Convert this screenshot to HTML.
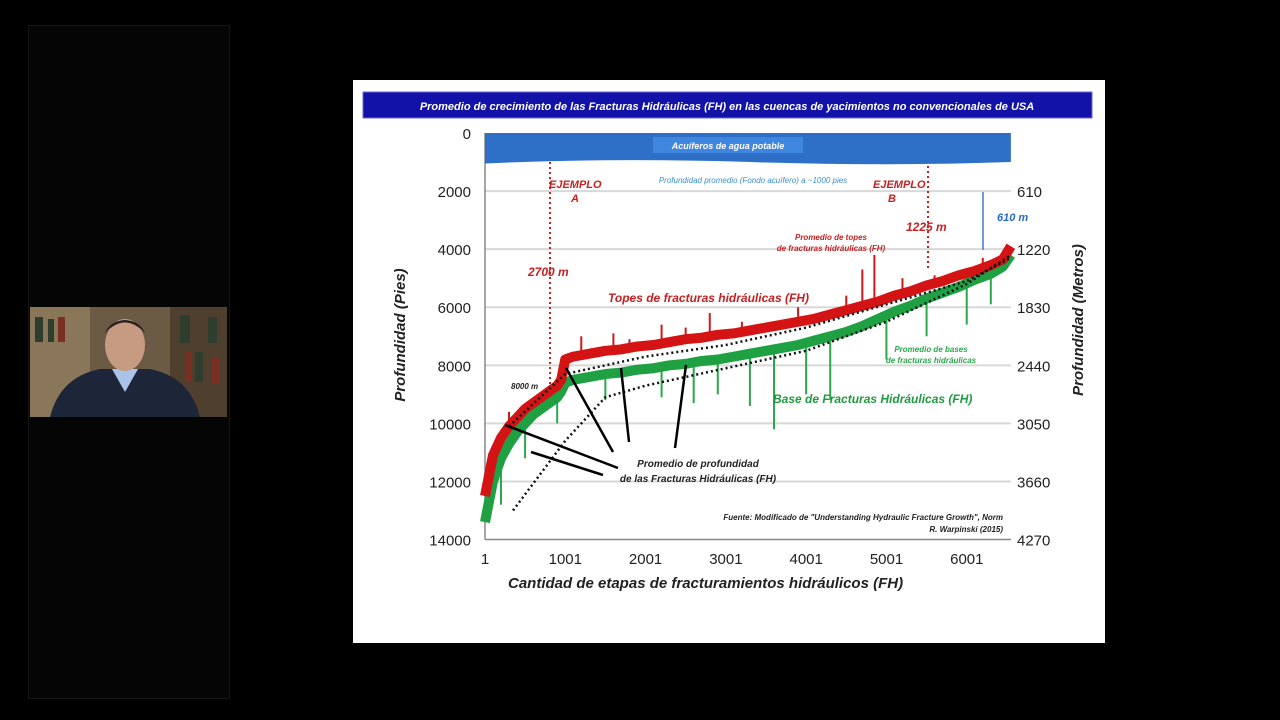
<!DOCTYPE html>
<html><head><meta charset="utf-8">
<style>
html,body{margin:0;padding:0;background:#000;width:1280px;height:720px;overflow:hidden;font-family:"Liberation Sans",sans-serif}
#left{position:absolute;left:28px;top:25px;width:200px;height:672px;background:#050505;border:1px solid #151515}
#cam{position:absolute;left:30px;top:307px;width:197px;height:110px;overflow:hidden;background:#5a4a38}
#slide{position:absolute;left:353px;top:80px;width:752px;height:563px;background:#fff}
</style></head><body>
<div id="left"></div>
<div id="cam">
<svg width="197" height="110">
<rect x="0" y="0" width="197" height="110" fill="#6b5a44"/>
<rect x="0" y="0" width="60" height="110" fill="#8a7658"/>
<rect x="140" y="0" width="57" height="110" fill="#4e3f2e"/>
<g fill="#2f3d2f"><rect x="5" y="10" width="8" height="25"/><rect x="18" y="12" width="6" height="23"/><rect x="150" y="8" width="10" height="28"/><rect x="165" y="45" width="8" height="30"/><rect x="178" y="10" width="9" height="26"/></g>
<g fill="#7a2f25"><rect x="28" y="10" width="7" height="25"/><rect x="155" y="45" width="7" height="30"/><rect x="182" y="50" width="8" height="26"/></g>
<path d="M20 110 Q30 70 70 62 L120 62 Q160 70 170 110Z" fill="#1c2638"/>
<path d="M82 62 L95 85 L108 62Z" fill="#a9c4e8"/>
<ellipse cx="95" cy="38" rx="20" ry="26" fill="#c79a82"/>
<path d="M75 26 Q95 5 115 26 Q110 14 95 13 Q80 14 75 26Z" fill="#2a2220"/>
</svg></div>
<div id="slide">
<svg id="chart" width="752" height="563"></svg>
</div>
<script>
// data (stage number, depth in feet)
const stages = [1,50,100,200,300,400,500,600,700,800,900,950,1000,1100,1300,1500,1700,1900,2100,2300,2500,2700,2900,3100,3300,3500,3700,3900,4100,4300,4500,4700,4900,5100,5300,5500,5700,5900,6100,6300,6450,6550];
const topDepth = [12500,11800,11100,10500,10100,9800,9500,9300,9100,8900,8700,8500,7800,7700,7600,7500,7450,7350,7300,7200,7100,7050,6950,6900,6800,6700,6600,6500,6400,6250,6100,5950,5800,5600,5450,5250,5100,4900,4750,4550,4350,3900];
const baseDepth = [13400,12700,12000,11200,10700,10300,10000,9700,9500,9300,9100,8900,8600,8500,8400,8300,8250,8150,8100,8000,7950,7850,7800,7700,7600,7500,7400,7300,7150,7000,6850,6650,6400,6150,5950,5700,5500,5300,5050,4850,4600,4200];
const topSpikes = [[300,9600],[1200,7000],[1600,6900],[1800,7100],[2200,6600],[2500,6700],[2800,6200],[3200,6500],[3900,6000],[4500,5600],[4700,4700],[4850,4200],[5200,5000],[5600,4900],[6200,4300]];
const baseSpikes = [[200,12800],[500,11200],[900,10000],[1500,9200],[2200,9100],[2600,9300],[2900,9000],[3300,9400],[3600,10200],[4000,9000],[4300,9200],[5000,7800],[5500,7000],[6000,6600],[6300,5900]];
const avgUpper = [[300,10100],[1000,8300],[2000,7700],[3000,7300],[4000,6700],[5000,5900],[6000,5100],[6550,4300]];
const avgLower = [[350,13000],[1000,10600],[1500,9100],[2000,8700],[3000,8100],[4000,7500],[5000,6500],[6000,5200],[6550,4200]];
const yTicks = [0,2000,4000,6000,8000,10000,12000,14000];
const xTicks = [1,1001,2001,3001,4001,5001,6001];
const mTicks = ["610","1220","1830","2440","3050","3660","4270"];

const NS="http://www.w3.org/2000/svg";
const svg=document.getElementById('chart');
const XMAX=6550;
const X=v=>132+(v-1)*0.0803;
const Y=v=>53+v*0.02904;
function el(t,a,txt){const e=document.createElementNS(NS,t);for(const k in a)e.setAttribute(k,a[k]);if(txt!==undefined)e.textContent=txt;svg.appendChild(e);return e;}
let e;
e=el('rect',{x:10,y:12,width:729,height:26,fill:'#1212a8',stroke:'#6a6ad0'});


e=el('text',{x:374,y:30,'text-anchor':'middle','font-size':11,'font-weight':'bold','font-style':'italic',fill:'#fff'},'Promedio de crecimiento de las Fracturas Hidráulicas (FH) en las cuencas de yacimientos no convencionales de USA');


yTicks.forEach((t,i)=>{
 if(i>0&&i<7){e=el('line',{x1:X(1),x2:X(XMAX),y1:Y(t),y2:Y(t),stroke:'#d8d8d8','stroke-width':2});
 
 }
 e=el('text',{x:118,y:Y(t)+6,'text-anchor':'end','font-size':15,fill:'#222'},String(t));
 
 
});
mTicks.forEach((t,i)=>{
 e=el('text',{x:664,y:Y((i+1)*2000)+6,'font-size':15,fill:'#222'},t);
 
 
});
xTicks.forEach(t=>{
 e=el('text',{x:X(t),y:484,'text-anchor':'middle','font-size':15,fill:'#222'},String(t));
 
 
});
e=el('line',{x1:X(1),x2:X(1),y1:Y(0),y2:Y(14000),stroke:'#888','stroke-width':1.5});


e=el('line',{x1:X(1),x2:X(XMAX),y1:Y(14000),y2:Y(14000),stroke:'#888','stroke-width':1.5});


e=el('path',{d:`M${X(1)} ${Y(0)} L${X(XMAX)} ${Y(0)} L${X(XMAX)} ${Y(1000)} Q${X(5000)} ${Y(1150)} ${X(3300)} ${Y(1000)} Q${X(1600)} ${Y(850)} ${X(1)} ${Y(1050)} Z`,fill:'#2e6fc8'});


e=el('rect',{x:300,y:57,width:150,height:16,fill:'#3f86e0'});


e=el('text',{x:375,y:69,'text-anchor':'middle','font-size':9,'font-style':'italic','font-weight':'bold',fill:'#fff'},'Acuíferos de agua potable');


e=el('text',{x:400,y:103,'text-anchor':'middle','font-size':8,'font-style':'italic',fill:'#3a8fd0'},'Profundidad promedio (Fondo acuífero) a ~1000 pies');


function poly(xs,ys,color,w,name){
 const pts=xs.map((s,i)=>X(s)+','+Y(ys[i])).join(' ');
 const p=el('polyline',{points:pts,fill:'none',stroke:color,'stroke-width':w,'stroke-linejoin':'round'});
 
 
}
baseSpikes.forEach(s=>{const i=stages.findIndex(v=>v>=s[0]);
 e=el('line',{x1:X(s[0]),x2:X(s[0]),y1:Y(baseDepth[i]),y2:Y(s[1]),stroke:'#2aa84a','stroke-width':2});
 
 });
poly(stages,baseDepth,'#1fa043',10,'base-fracture-series');
topSpikes.forEach(s=>{const i=stages.findIndex(v=>v>=s[0]);
 e=el('line',{x1:X(s[0]),x2:X(s[0]),y1:Y(topDepth[i]),y2:Y(s[1]),stroke:'#d01818','stroke-width':2});
 
 });
poly(stages,topDepth,'#d41414',10,'top-fracture-series');
function dotted(arr,name){
 const p=el('polyline',{points:arr.map(a=>X(a[0])+','+Y(a[1])).join(' '),fill:'none',stroke:'#111','stroke-width':2.5,'stroke-dasharray':'2 3'});
 
 
}
dotted(avgUpper,'avg-top-line');dotted(avgLower,'avg-base-line');
function txt(x,y,s,size,col,name,anchor){const t=el('text',{x:x,y:y,'font-size':size,'font-weight':'bold','font-style':'italic',fill:col,'text-anchor':anchor||'start'},s);
 
 }
el('line',{x1:197,x2:197,y1:82,y2:305,stroke:'#c82020','stroke-width':2,'stroke-dasharray':'2 3'});
el('line',{x1:575,x2:575,y1:86,y2:190,stroke:'#c82020','stroke-width':2,'stroke-dasharray':'2 3'});
txt(196,108,'EJEMPLO',11,'#c82020','example-a-label');
txt(218,122,'A',11,'#c82020','example-a-letter');
txt(520,108,'EJEMPLO',11,'#c82020','example-b-label');
txt(535,122,'B',11,'#c82020','example-b-letter');
txt(175,196,'2700 m',12,'#c82020','depth-2700m');
txt(553,151,'1225 m',12,'#c82020','depth-1225m');
el('line',{x1:630,x2:630,y1:112,y2:170,stroke:'#3a7ad0','stroke-width':1.5});
txt(644,141,'610 m',11,'#2a6ac8','depth-610m');
txt(255,222,'Topes de fracturas hidráulicas (FH)',12,'#c82020','top-fractures-label');
txt(478,160,'Promedio de topes',8,'#c82020','avg-top-label','middle');
txt(478,171,'de fracturas hidráulicas (FH)',8,'#c82020','avg-top-label-2','middle');
txt(578,272,'Promedio de bases',8,'#2aa84a','avg-base-label','middle');
txt(578,283,'de fracturas hidráulicas',8,'#2aa84a','avg-base-label-2','middle');
txt(420,323,'Base de Fracturas Hidráulicas (FH)',12,'#1f9a3e','base-fractures-label');
txt(345,387,'Promedio de profundidad',10,'#222','avg-depth-label','middle');
txt(345,402,'de las Fracturas Hidráulicas (FH)',10,'#222','avg-depth-label-2','middle');
txt(650,440,'Fuente: Modificado de "Understanding Hydraulic Fracture Growth", Norm',8,'#222','source-note','end');
txt(650,452,'R. Warpinski (2015)',8,'#222','source-note-2','end');
txt(158,309,'8000 m',8,'#222','depth-8000-label');
[[260,372,213,288],[276,362,268,288],[322,368,333,285],[265,388,152,345],[250,395,178,372]].forEach(a=>{
 e=el('line',{x1:a[0],y1:a[1],x2:a[2],y2:a[3],stroke:'#000','stroke-width':2.5});
 
 });
e=el('text',{x:155,y:508,'font-size':15,'font-weight':'bold','font-style':'italic',fill:'#222'},'Cantidad de etapas de fracturamientos hidráulicos (FH)');


e=el('text',{x:0,y:0,'font-size':15,'font-weight':'bold','font-style':'italic',fill:'#222','text-anchor':'middle',transform:'translate(52,255) rotate(-90)'},'Profundidad (Pies)');


e=el('text',{x:0,y:0,'font-size':15,'font-weight':'bold','font-style':'italic',fill:'#222','text-anchor':'middle',transform:'translate(730,240) rotate(-90)'},'Profundidad (Metros)');


</script>
</body></html>
